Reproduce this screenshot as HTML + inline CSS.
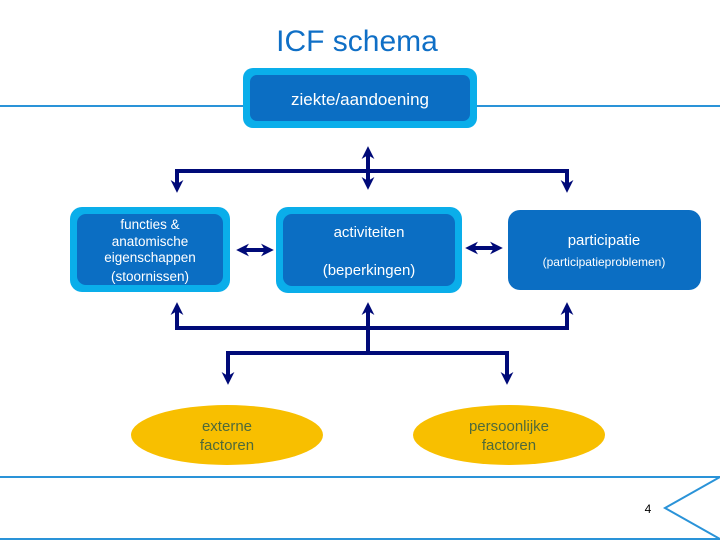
<!DOCTYPE html>
<html><head><style>
body{margin:0;width:720px;height:540px;background:#fff;overflow:hidden}
svg{display:block}
text{font-family:"Liberation Sans","DejaVu Sans",sans-serif}
</style></head><body>
<svg width="720" height="540" viewBox="0 0 720 540">
<defs>
<marker id="a" viewBox="0 0 10 10" refX="7" refY="5" markerWidth="3.2" markerHeight="3.2" orient="auto-start-reverse">
<path d="M0,0 L10,5 L0,10 L3,5 Z" fill="#000a78"/></marker>
</defs>
<text x="357" y="51" font-size="30" fill="#0f6fc6" text-anchor="middle">ICF schema</text>
<line x1="0" y1="106" x2="720" y2="106" stroke="#2a93d8" stroke-width="2"/>
<rect x="243" y="68" width="234" height="60" rx="10" fill="#0aaeea"/>
<rect x="250" y="75" width="220" height="46" rx="7" fill="#0b6ec3"/>
<text x="360" y="105" font-size="17" fill="#fff" text-anchor="middle">ziekte/aandoening</text>

<g stroke="#000a78" stroke-width="4" fill="none">
<line x1="368" y1="150" x2="368" y2="186" marker-start="url(#a)" marker-end="url(#a)"/>
<polyline points="177,189 177,171 567,171 567,189" marker-start="url(#a)" marker-end="url(#a)"/>
<line x1="240" y1="250" x2="270" y2="250" marker-start="url(#a)" marker-end="url(#a)"/>
<line x1="469" y1="248" x2="499" y2="248" marker-start="url(#a)" marker-end="url(#a)"/>
<polyline points="177,306 177,328 567,328 567,306" marker-start="url(#a)" marker-end="url(#a)"/>
<line x1="368" y1="306" x2="368" y2="353" marker-start="url(#a)"/>
<polyline points="228,381 228,353 507,353 507,381" marker-start="url(#a)" marker-end="url(#a)"/>
</g>

<rect x="70" y="207" width="160" height="85" rx="12" fill="#0aaeea"/>
<rect x="77" y="214" width="146" height="71" rx="9" fill="#0b6ec3"/>
<g font-size="13.5" fill="#fff" text-anchor="middle">
<text x="150" y="229">functies &amp;</text>
<text x="150" y="246">anatomische</text>
<text x="150" y="262">eigenschappen</text>
<text x="150" y="281">(stoornissen)</text>
</g>
<rect x="276" y="207" width="186" height="86" rx="12" fill="#0aaeea"/>
<rect x="283" y="214" width="172" height="72" rx="9" fill="#0b6ec3"/>
<text x="369" y="237" font-size="15" fill="#fff" text-anchor="middle">activiteiten</text>
<text x="369" y="275" font-size="15" fill="#fff" text-anchor="middle">(beperkingen)</text>
<rect x="508" y="210" width="193" height="80" rx="12" fill="#0b6ec3"/>
<text x="604" y="245" font-size="15" fill="#fff" text-anchor="middle">participatie</text>
<text x="604" y="266" font-size="12" fill="#fff" text-anchor="middle">(participatieproblemen)</text>

<ellipse cx="227" cy="435" rx="96" ry="30" fill="#f8bf00"/>
<text x="227" y="431" font-size="15" fill="#4f6a3a" text-anchor="middle">externe</text>
<text x="227" y="450" font-size="15" fill="#4f6a3a" text-anchor="middle">factoren</text>
<ellipse cx="509" cy="435" rx="96" ry="30" fill="#f8bf00"/>
<text x="509" y="431" font-size="15" fill="#4f6a3a" text-anchor="middle">persoonlijke</text>
<text x="509" y="450" font-size="15" fill="#4f6a3a" text-anchor="middle">factoren</text>

<line x1="0" y1="477" x2="720" y2="477" stroke="#2a93d8" stroke-width="2"/>
<line x1="0" y1="539" x2="720" y2="539" stroke="#2a93d8" stroke-width="2"/>
<polyline points="720,477 665,508 720,539" fill="none" stroke="#2a93d8" stroke-width="2"/>
<text x="648" y="513" font-size="12" fill="#000" text-anchor="middle">4</text>
</svg>
</body></html>
